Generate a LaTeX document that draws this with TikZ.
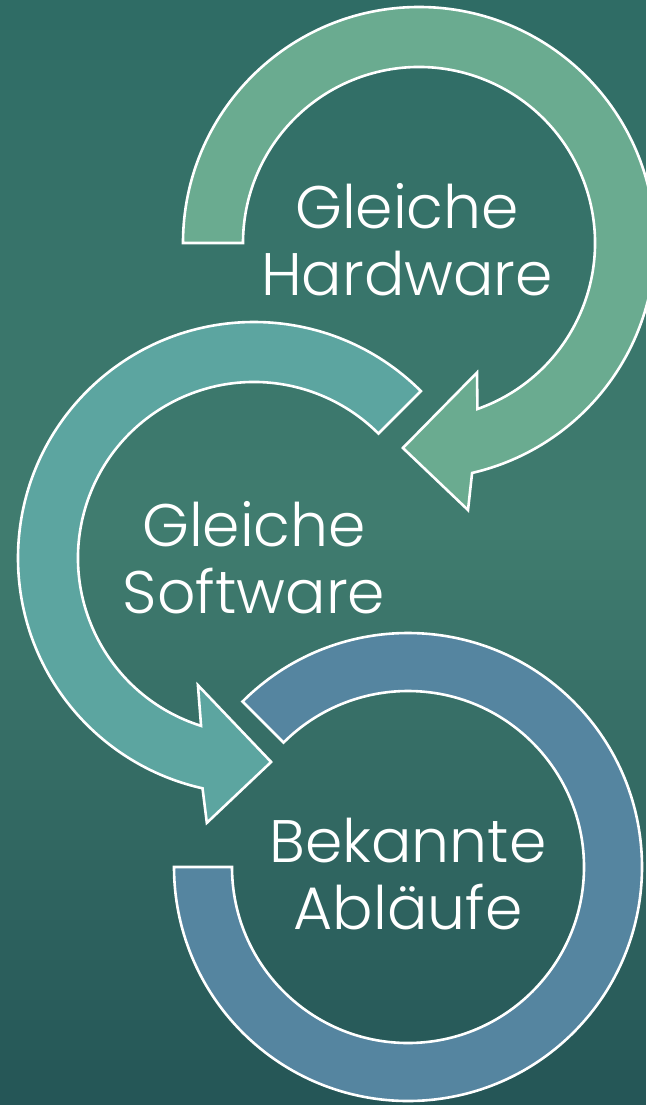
\documentclass[tikz,border=0pt]{standalone}
\usepackage{fontspec}
\setmainfont{Poppins}[UprightFont=* Light]
\definecolor{bgtop}{HTML}{2F6C65}
\definecolor{bgmid}{HTML}{407C6F}
\definecolor{bgbot}{HTML}{245556}
\definecolor{arrowgreen}{HTML}{6AAB90}
\definecolor{arrowteal}{HTML}{5CA5A0}
\definecolor{arrowblue}{HTML}{5585A0}
\tikzset{
  ring/.style={draw=white, line width=2.6pt, line join=miter},
  label/.style={text=white, align=center, font=\fontsize{60}{67}\selectfont, inner sep=0pt}
}
\begin{document}
\begin{tikzpicture}[x=1pt,y=1pt]
  \useasboundingbox (0,0) rectangle (646,-1105);
  % background gradient built from strips
  \foreach \i in {0,...,110} {
    \pgfmathsetmacro\yy{\i*10}
    \ifdim\yy pt<520pt
      \pgfmathtruncatemacro\pp{\yy/520*100}
      \fill[bgmid!\pp!bgtop] (0,-\yy) rectangle (646,-\yy-10.6);
    \else
      \pgfmathtruncatemacro\pp{min(100,(\yy-520)/585*100)}
      \fill[bgbot!\pp!bgmid] (0,-\yy) rectangle (646,-\yy-10.6);
    \fi
  }
  % bottom ring (no arrowhead)
  \begin{scope}[shift={(408,-867)}]
    \path[ring, fill=arrowblue] (135:234pt) arc[start angle=135, end angle=-180, radius=234pt]
      -- (180:176pt) arc[start angle=-180, end angle=135, radius=176pt] -- cycle;
  \end{scope}
  % middle arrow
  \begin{scope}[shift={(254,-558)}]
    \path[ring, fill=arrowteal] (45:236pt) arc[start angle=45, end angle=257.4, radius=236pt]
      -- (259.9:269pt) -- (274.8:204.7pt) -- (246.2:139pt) -- (252.5:176pt)
      arc[start angle=252.5, end angle=45, radius=176pt] -- cycle;
  \end{scope}
  % top arrow
  \begin{scope}[shift={(419,-243)}]
    \path[ring, fill=arrowgreen] (180:236pt) arc[start angle=180, end angle=-77, radius=236pt]
      -- (-79.6:271.5pt) -- (-94.5:205.6pt) -- (-65.9:142pt) -- (-70.6:176pt)
      arc[start angle=-70.6, end angle=180, radius=176pt] -- cycle;
  \end{scope}
  \node[label] (hw) at (407,-240) {Gleiche\\Hardware};
  \node[label] (sw) at (254,-558) {Gleiche\\Software};
  \node[label] (ab) at (408,-874) {Bekannte\\Abläufe};
\end{tikzpicture}
\end{document}
